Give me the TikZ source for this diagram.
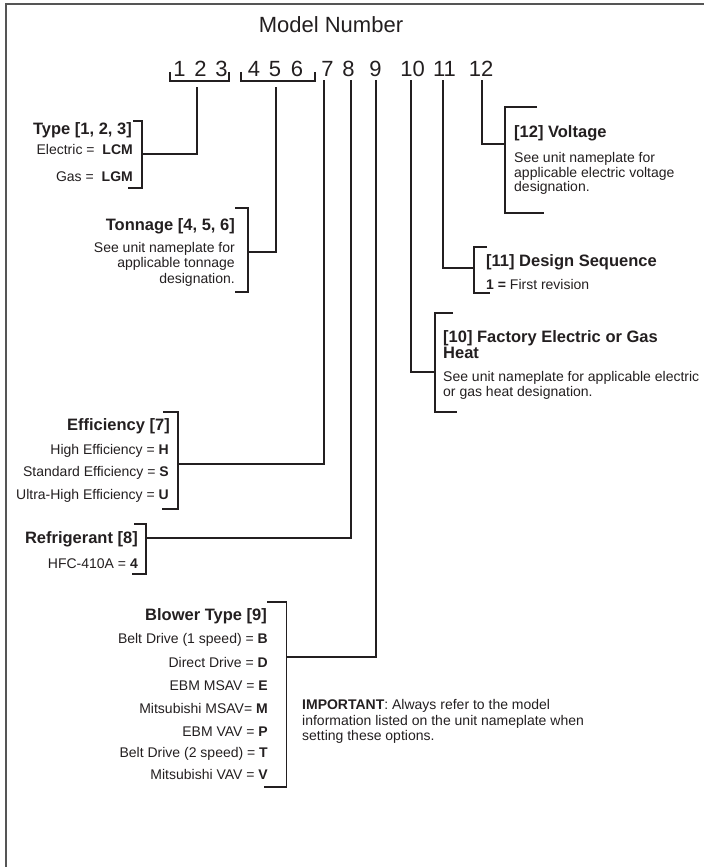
\documentclass[tikz,border=0pt]{standalone}
\usepackage{fontspec}
\setmainfont{Liberation Sans}
\definecolor{ink}{HTML}{231F20}
\definecolor{frame}{HTML}{555555}
\begin{document}
\begin{tikzpicture}[x=1pt,y=-1pt,
  txt/.style={inner sep=0pt,text=ink,font=\fontsize{14}{16}\selectfont},
  head/.style={inner sep=0pt,text=ink,font=\fontsize{16.5}{19}\selectfont\bfseries},
  dig/.style={inner sep=0pt,text=ink,font=\fontsize{22}{24}\selectfont,anchor=base},
  conn/.style={draw=ink,line width=1.1pt},
  brk/.style={draw=ink,line width=1.1pt}]
\useasboundingbox (0,0) rectangle (704,867);
% frame
\draw[frame,line width=2pt] (6,867) -- (6,4) -- (704,4);
% title
\node[inner sep=0pt,text=ink,font=\fontsize{22}{24}\selectfont,anchor=base] (title) at (331,33) {Model Number};
% digits
\node[dig] (d1) at (179.5,76) {1};
\node[dig] (d2) at (200.5,76) {2};
\node[dig] (d3) at (221.5,76) {3};
\node[dig] (d4) at (254,76) {4};
\node[dig] (d5) at (275,76) {5};
\node[dig] (d6) at (297,76) {6};
\node[dig] (d7) at (327.5,76) {7};
\node[dig] (d8) at (348.5,76) {8};
\node[dig] (d9) at (375.5,76) {9};
\node[dig] (d10) at (412.5,76) {10};
\node[dig] (d11) at (444.5,76) {11};
\node[dig] (d12) at (481,76) {12};
% digit group brackets
\draw[brk] (170,72) -- (170,81) -- (229,81) -- (229,72);
\draw[brk] (241,72) -- (241,81) -- (315,81) -- (315,72);
% connector start points
\coordinate (s1) at (197,87);
\coordinate (s2) at (276,87);
\coordinate (s7) at (324,80);
\coordinate (s8) at (351,80);
\coordinate (s9) at (376,80);
\coordinate (s10) at (411,80);
\coordinate (s11) at (443,80);
\coordinate (s12) at (482,80);
% bracket attach points
\coordinate (b1) at (142,154);
\coordinate (b2) at (248,252);
\coordinate (b7) at (178,464);
\coordinate (b8) at (146,538);
\coordinate (b9) at (286.5,657);
\coordinate (b10) at (435,372);
\coordinate (b11) at (474,268);
\coordinate (b12) at (505,144);
% connectors
\draw[conn] (s1) |- (b1);
\draw[conn] (s2) |- (b2);
\draw[conn] (s7) |- (b7);
\draw[conn] (s8) |- (b8);
\draw[conn] (s9) |- (b9);
\draw[conn] (s10) |- (b10);
\draw[conn] (s11) |- (b11);
\draw[conn] (s12) |- (b12);
% section brackets
\draw[brk] (133,121) -- (142,121) -- (142,188) -- (128,188);
\draw[brk] (235,208) -- (248,208) -- (248,292) -- (235,292);
\draw[brk] (163,412) -- (178,412) -- (178,509) -- (162,509);
\draw[brk] (134,524) -- (146,524) -- (146,574) -- (132,574);
\draw[brk] (267,602) -- (286.5,602) -- (286.5,787) -- (264,787);
\draw[brk] (453,313) -- (435,313) -- (435,412) -- (457,412);
\draw[brk] (487,247) -- (474,247) -- (474,293) -- (490,293);
\draw[brk] (537,107) -- (505,107) -- (505,213) -- (544,213);
% Type
\node[head,anchor=base east] (typeh) at (132,134.5) {Type [1, 2, 3]};
\node[txt,anchor=base east] (type1) at (133,154.5) {Electric =\hspace{4pt} \textbf{LCM}};
\node[txt,anchor=base east] (type2) at (133,181.5) {Gas =\hspace{4pt} \textbf{LGM}};
% Tonnage
\node[head,anchor=base east] (tonh) at (235,230) {Tonnage [4, 5, 6]};
\node[txt,anchor=base east] (ton1) at (235,252.5) {See unit nameplate for};
\node[txt,anchor=base east] (ton2) at (235,267.5) {applicable tonnage};
\node[txt,anchor=base east] (ton3) at (235,283) {designation.};
% Voltage
\node[head,anchor=base west] (volh) at (514,137) {[12] Voltage};
\node[txt,anchor=base west] (vol1) at (514,162.5) {See unit nameplate for};
\node[txt,anchor=base west] (vol2) at (514,177) {applicable electric voltage};
\node[txt,anchor=base west] (vol3) at (514,191.5) {designation.};
% Design sequence
\node[head,anchor=base west] (desh) at (486,266) {[11] Design Sequence};
\node[txt,anchor=base west] (des1) at (486,289) {\textbf{1 =} First revision};
% Heat
\node[head,anchor=base west] (heath1) at (443,342.5) {[10] Factory Electric or Gas};
\node[head,anchor=base west] (heath2) at (443,358.5) {Heat};
\node[txt,anchor=base west] (heat1) at (443,381.5) {See unit nameplate for applicable electric};
\node[txt,anchor=base west] (heat2) at (443,396) {or gas heat designation.};
% Efficiency
\node[head,anchor=base east] (effh) at (170,430) {Efficiency [7]};
\node[txt,anchor=base east] (eff1) at (169,454) {High Efficiency = \textbf{H}};
\node[txt,anchor=base east] (eff2) at (169,476.7) {Standard Efficiency = \textbf{S}};
\node[txt,anchor=base east] (eff3) at (169,499.3) {Ultra-High Efficiency = \textbf{U}};
% Refrigerant
\node[head,anchor=base east] (refh) at (138,543.3) {Refrigerant [8]};
\node[txt,anchor=base east] (ref1) at (138,568.3) {HFC-410A = \textbf{4}};
% Blower
\node[head,anchor=base east] (blh) at (267,620.7) {Blower Type [9]};
\node[txt,anchor=base east] (bl1) at (268,643.3) {Belt Drive (1 speed) = \textbf{B}};
\node[txt,anchor=base east] (bl2) at (268,667) {Direct Drive = \textbf{D}};
\node[txt,anchor=base east] (bl3) at (268,690) {EBM MSAV = \textbf{E}};
\node[txt,anchor=base east] (bl4) at (268,713.3) {Mitsubishi MSAV= \textbf{M}};
\node[txt,anchor=base east] (bl5) at (268,736) {EBM VAV = \textbf{P}};
\node[txt,anchor=base east] (bl6) at (268,757) {Belt Drive (2 speed) = \textbf{T}};
\node[txt,anchor=base east] (bl7) at (268,779) {Mitsubishi VAV = \textbf{V}};
% Important
\node[txt,anchor=base west] (imp1) at (302,709.3) {\textbf{IMPORTANT}: Always refer to the model};
\node[txt,anchor=base west] (imp2) at (302,725) {information listed on the unit nameplate when};
\node[txt,anchor=base west] (imp3) at (302,740.5) {setting these options.};
\end{tikzpicture}
\end{document}
